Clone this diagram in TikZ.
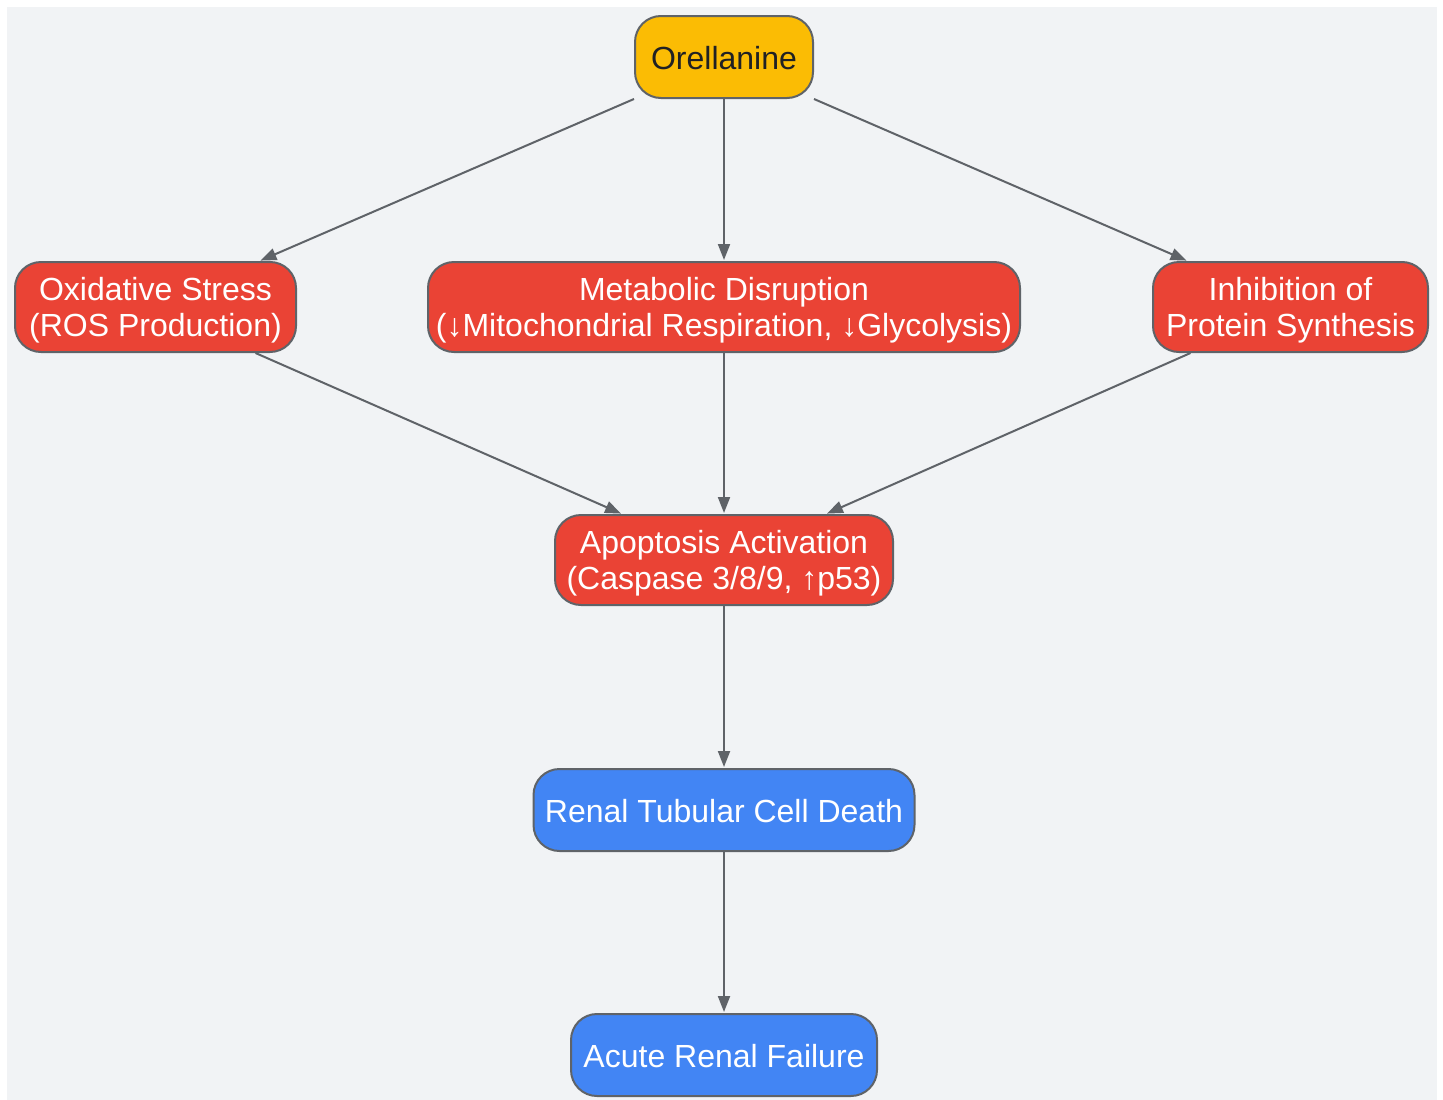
\documentclass[tikz,border=0pt]{standalone}
\usepackage{fontspec}
\setmainfont{Liberation Sans}
\usetikzlibrary{arrows.meta}
\definecolor{bgc}{HTML}{F1F3F5}
\definecolor{edgec}{HTML}{5F6368}
\definecolor{orc}{HTML}{FBBC04}
\definecolor{redc}{HTML}{EA4335}
\definecolor{bluec}{HTML}{4285F4}
\definecolor{darktxt}{HTML}{202124}
\newcommand{\twolines}[2]{\raisebox{-4pt}[\height][\depth]{\begin{tabular}{@{}c@{}}#1\\#2\end{tabular}}}
\tikzset{
  box/.style={draw=edgec, line width=2pt, rounded corners=26pt, align=center,
    inner sep=0pt, font=\fontsize{32}{36}\selectfont},
  orbox/.style={box, fill=orc, text=darktxt},
  redbox/.style={box, fill=redc, text=white},
  bluebox/.style={box, fill=bluec, text=white},
  conn/.style={draw=edgec, line width=2pt, -{Triangle[length=16pt,width=12pt]}, shorten >=1pt}
}
\begin{document}
\begin{tikzpicture}[x=1pt,y=-1pt]
\useasboundingbox (0,0) rectangle (1443,1100);
\fill[bgc] (7,7) rectangle (1437,1100);
\node[orbox, minimum width=178pt, minimum height=82pt] (orel) at (724,57) {\raisebox{-1pt}[\height][\depth]{Orellanine}};
\node[redbox, minimum width=281pt, minimum height=90pt] (ox) at (155.5,307) {\twolines{Oxidative Stress}{(ROS Production)}};
\node[redbox, minimum width=592pt, minimum height=90pt] (met) at (724,307) {\twolines{Metabolic Disruption}{(↓Mitochondrial Respiration, ↓Glycolysis)}};
\node[redbox, minimum width=275pt, minimum height=90pt] (inh) at (1290.5,307) {\twolines{Inhibition of}{Protein Synthesis}};
\node[redbox, minimum width=338pt, minimum height=90pt] (apo) at (724,560) {\twolines{Apoptosis Activation}{(Caspase 3/8/9, ↑p53)}};
\node[bluebox, minimum width=381pt, minimum height=82pt] (ren) at (724,810) {\raisebox{-1pt}[\height][\depth]{Renal Tubular Cell Death}};
\node[bluebox, minimum width=306pt, minimum height=82pt] (acu) at (724,1055) {\raisebox{-1pt}[\height][\depth]{Acute Renal Failure}};
\draw[conn] (orel.south west) -- ([xshift=104pt]ox.north);
\draw[conn] (orel.south) -- (met.north);
\draw[conn] (orel.south east) -- ([xshift=-103pt]inh.north);
\draw[conn] ([xshift=100pt]ox.south) -- ([xshift=-102pt]apo.north);
\draw[conn] (met.south) -- (apo.north);
\draw[conn] ([xshift=-100pt]inh.south) -- ([xshift=102pt]apo.north);
\draw[conn] (apo.south) -- (ren.north);
\draw[conn] (ren.south) -- (acu.north);
\end{tikzpicture}
\end{document}
